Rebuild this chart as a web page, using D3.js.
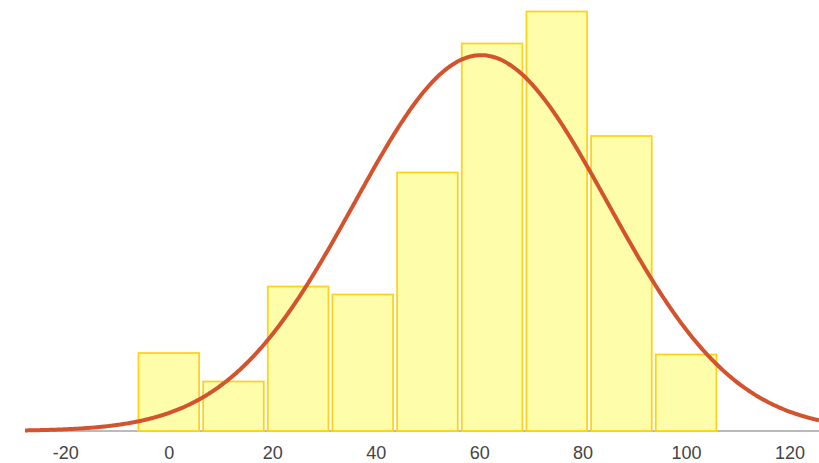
<!DOCTYPE html>
<html>
<head>
<meta charset="utf-8">
<script src="https://cdn.jsdelivr.net/npm/d3@7"></script>
<style>
  html, body { margin: 0; padding: 0; background: #ffffff; }
  svg { display: block; }
  .axis text { font-family: "Liberation Sans", Arial, sans-serif; font-size: 18px; fill: #444444; }
</style>
</head>
<body>
<svg id="chart" width="819" height="463"></svg>
<script>
// Histogram bins: centre of each bin and its count
const binCenters = [0, 12.5, 25, 37.5, 50, 62.5, 75, 87.5, 100];
const binCounts  = [7.8, 4.95, 14.45, 13.65, 25.85, 38.75, 41.95, 29.5, 7.65];
const binWidth = 12.5;

// Labels along the horizontal axis
const xTickValues = [-20, 0, 20, 40, 60, 80, 100, 120];

const xDomain = [-27.8, 125.7];
const yDomain = [0, 43.1];

const svg = d3.select("#chart");

const x = d3.scaleLinear().domain(xDomain).range([25, 819]);
const y = d3.scaleLinear().domain(yDomain).range([431, 0]);

// Baseline (sits under the bars)
svg.append("line")
  .attr("x1", x(xDomain[0])).attr("x2", x(xDomain[1]))
  .attr("y1", y(0)).attr("y2", y(0))
  .attr("stroke", "#a3a3a3")
  .attr("stroke-width", 1.5);

// Bars
const bins = binCenters.map((c, i) => ({ lo: c - binWidth / 2, hi: c + binWidth / 2, count: binCounts[i] }));
const inset = 2;
svg.append("g").selectAll("rect")
  .data(bins)
  .join("rect")
  .attr("x", d => x(d.lo) + inset)
  .attr("width", d => x(d.hi) - x(d.lo) - 2 * inset)
  .attr("y", d => y(d.count))
  .attr("height", d => y(0) - y(d.count))
  .attr("fill", "#fdfdaa")
  .attr("stroke", "#ffd21a")
  .attr("stroke-width", 1.75);

// Normal curve fitted to the binned data, scaled to bar heights
const total = d3.sum(binCounts);
const mean = d3.sum(bins, (d, i) => binCenters[i] * d.count) / total;
const variance = d3.sum(bins, (d, i) => d.count * (binCenters[i] - mean) ** 2) / total;
const sd = Math.sqrt(variance);
const scaleFactor = total * binWidth / (sd * Math.sqrt(2 * Math.PI));
const fitted = d3.range(xDomain[0], xDomain[1] + 0.25, 0.25)
  .map(v => [v, scaleFactor * Math.exp(-0.5 * ((v - mean) / sd) ** 2)]);

svg.append("path")
  .datum(fitted)
  .attr("fill", "none")
  .attr("stroke", "#d2532d")
  .attr("stroke-width", 4)
  .attr("d", d3.line().x(d => x(d[0])).y(d => y(d[1])).curve(d3.curveMonotoneX));

// Axis labels (plain hyphen for negatives)
const axis = d3.axisBottom(x).tickValues(xTickValues).tickSize(0).tickPadding(15).tickFormat(d => String(d));
const axisG = svg.append("g")
  .attr("class", "axis")
  .attr("transform", `translate(0,${y(0)})`)
  .call(axis);
axisG.select(".domain").remove();
axisG.selectAll("text").attr("fill", "#444444").style("font-family", "'Liberation Sans', Arial, sans-serif").style("font-size", "18px");
</script>
</body>
</html>
